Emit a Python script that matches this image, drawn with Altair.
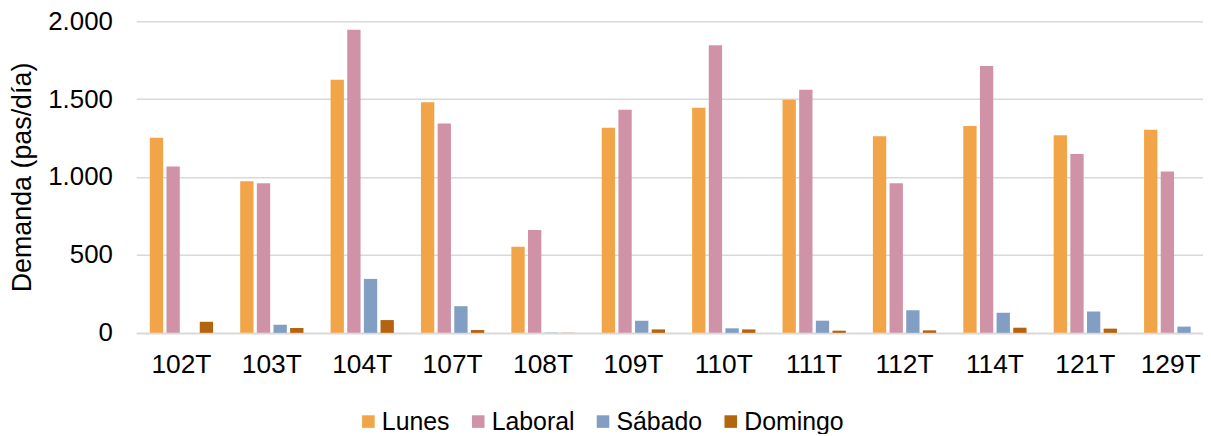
import altair as alt
import pandas as pd

categories = ["102T", "103T", "104T", "107T", "108T", "109T", "110T", "111T", "112T", "114T", "121T", "129T"]
series = ["Lunes", "Laboral", "Sábado", "Domingo"]
lunes = [1252, 973, 1624, 1479, 552, 1316, 1445, 1496, 1262, 1328, 1268, 1303]
laboral = [1067, 960, 1945, 1343, 660, 1432, 1845, 1560, 960, 1713, 1147, 1035]
sabado = [0, 52, 346, 171, 2, 78, 29, 78, 145, 129, 137, 40]
domingo = [71, 31, 82, 18, 1, 22, 22, 14, 16, 33, 27, 0]
colors = ["#F2A548", "#D092A7", "#829FC3", "#B2640F"]
y_ticks = [0, 500, 1000, 1500, 2000]

rows = []
for name, vals in zip(series, [lunes, laboral, sabado, domingo]):
    for c, v in zip(categories, vals):
        rows.append({"Línea": c, "Serie": name, "Demanda": v})
df = pd.DataFrame(rows)

FONT = "Liberation Sans"

chart = alt.Chart(df).mark_bar().encode(
    x=alt.X("Línea:N", sort=categories, title=None,
            scale=alt.Scale(range=[0, 1091], paddingInner=0.3, paddingOuter=0.15),
            axis=alt.Axis(labelAngle=0, labelFontSize=26.5, labelFont=FONT, labelColor="#000000",
                          labelOffset=alt.ConditionalAxisNumber(
                              condition={"test": "datum.value == '129T'", "value": -5}, value=0),
                          tickSize=0, domain=True, domainColor="#d9d9d9", domainWidth=1.5,
                          labelPadding=19, grid=False)),
    xOffset=alt.XOffset("Serie:N", sort=series,
                        scale=alt.Scale(paddingInner=0.2, paddingOuter=0)),
    y=alt.Y("Demanda:Q", title="Demanda (pas/día)",
            scale=alt.Scale(domain=[0, 2000], nice=False),
            axis=alt.Axis(values=y_ticks, labelExpr="replace(format(datum.value, ','), ',', '.')",
                          labelFontSize=26, labelFont=FONT, labelColor="#000000",
                          titleFontSize=27, titleFont=FONT, titleColor="#000000", titleFontWeight="normal",
                          titlePadding=11, tickSize=0, domain=False, labelPadding=24,
                          grid=True, gridColor="#d9d9d9", gridWidth=1.5)),
    color=alt.Color("Serie:N", sort=series,
                    scale=alt.Scale(domain=series, range=colors),
                    legend=alt.Legend(orient="none", legendX=221, legendY=390, direction="horizontal",
                                      title=None, symbolType="square", symbolSize=160,
                                      symbolStrokeWidth=0, labelFontSize=25, labelFont=FONT,
                                      labelColor="#000000", labelOffset=1, columnPadding=15.5)),
).properties(
    width=1073, height=313.5,
    autosize=alt.AutoSizeParams(type="none"),
    padding={"left": 129, "top": 12, "right": 0, "bottom": 100},
).configure_view(stroke=None)

chart.save("out.html", embed_options={"renderer": "svg", "actions": False})
